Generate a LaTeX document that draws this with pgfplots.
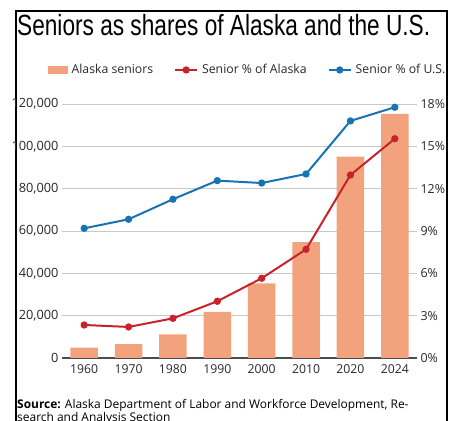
\documentclass[border=0pt]{standalone}
\usepackage{pgfplots}
\usepackage{pgfplotstable}
\pgfplotsset{compat=1.18}
\usepackage{fontspec}
\setmainfont{Open Sans}
\newfontfamily\titlefont{Liberation Sans}
\definecolor{barc}{RGB}{242,163,125}
\definecolor{redc}{RGB}{200,35,45}
\definecolor{bluec}{RGB}{25,115,178}
\definecolor{gridc}{RGB}{200,200,200}
\definecolor{txt}{RGB}{40,40,40}

\pgfplotstableread{
x bars ak us
0 4900 2.34 9.19
1 6500 2.20 9.83
2 11200 2.81 11.25
3 21800 4.02 12.57
4 35300 5.65 12.40
5 54700 7.70 13.04
6 95100 12.97 16.80
7 115300 15.54 17.77
}\data

\begin{document}
\begin{tikzpicture}
\useasboundingbox (0bp,0bp) rectangle (453bp,421bp);
\draw[line width=2.5bp] (16bp,-5bp) -- (16bp,410bp) -- (447bp,410bp) -- (447bp,-5bp);
\node[anchor=base west, inner sep=0] at (17bp,385bp) {\resizebox{413bp}{\height}{\titlefont\fontsize{29.3}{30}\selectfont Seniors as shares of Alaska and the U.S.}};

\begin{axis}[
  at={(62bp,63bp)}, anchor=south west, scale only axis,
  width=355bp, height=254bp,
  xmin=-0.5, xmax=7.5, ymin=0, ymax=120000,
  xtick={0,...,7}, xticklabels={1960,1970,1980,1990,2000,2010,2020,2024},
  ytick={0,20000,40000,60000,80000,100000,120000},
  axis x line*=bottom, axis y line*=left,
  y axis line style={draw=none},
  x axis line style={draw=black!70, line width=1.2bp},
  major tick length=0pt,
  ymajorgrids, grid style={gridc, line width=0.8bp},
  scaled y ticks=false,
  yticklabel={\pgfmathprintnumber[fixed, assume math mode=true, 1000 sep={,}]{\tick}},
  yticklabel style={font=\fontsize{12.8}{14}\selectfont, text=txt},
  xticklabel style={font=\fontsize{12.3}{14}\selectfont, text=txt, yshift=-3.5bp},
]
\addplot[ybar, bar width=0.62, fill=barc, draw=none] table[x=x,y=bars]{\data};
\end{axis}

\begin{axis}[
  at={(62bp,63bp)}, anchor=south west, scale only axis,
  width=355bp, height=254bp,
  xmin=-0.5, xmax=7.5, ymin=0, ymax=18,
  axis y line*=right, hide x axis,
  y axis line style={draw=none},
  ytick={0,3,6,9,12,15,18},
  yticklabel={\pgfmathprintnumber[fixed, assume math mode=true]{\tick}\%},
  major tick length=0pt,
  yticklabel style={font=\fontsize{12.5}{14}\selectfont, text=txt},
  legend columns=3,
  legend style={at={(-0.0394,1.134)}, anchor=west, draw=none, fill=none, inner sep=0pt,
    font=\fontsize{12.3}{14}\selectfont, text=txt,
    nodes={inner sep=0pt},
    /tikz/every even column/.append style={column sep=21bp},
    /tikz/every odd column/.append style={column sep=4bp}},
  legend image code/.code={\draw[mark repeat=2,mark phase=2,#1] plot coordinates {(0bp,0bp) (11bp,0bp) (22bp,0bp)};},
]
\addlegendimage{legend image code/.code={\fill[barc] (0bp,-3.5bp) rectangle (19bp,3.5bp);}}
\addplot[redc, line width=2bp, mark=*, mark size=2.6bp] table[x=x,y=ak]{\data};
\addplot[bluec, line width=2bp, mark=*, mark size=2.6bp] table[x=x,y=us]{\data};
\legend{Alaska seniors, Senior \% of Alaska, Senior \% of U.S.}
\end{axis}

\node[anchor=base west, inner sep=0, font=\fontsize{12}{13}\selectfont, text=black] at (17bp,12.7bp) {\textbf{Source:} Alaska Department of Labor and Workforce Development, Re-};
\node[anchor=base west, inner sep=0, font=\fontsize{12}{13}\selectfont, text=black] at (17bp,-0.3bp) {search and Analysis Section};
\end{tikzpicture}
\end{document}
